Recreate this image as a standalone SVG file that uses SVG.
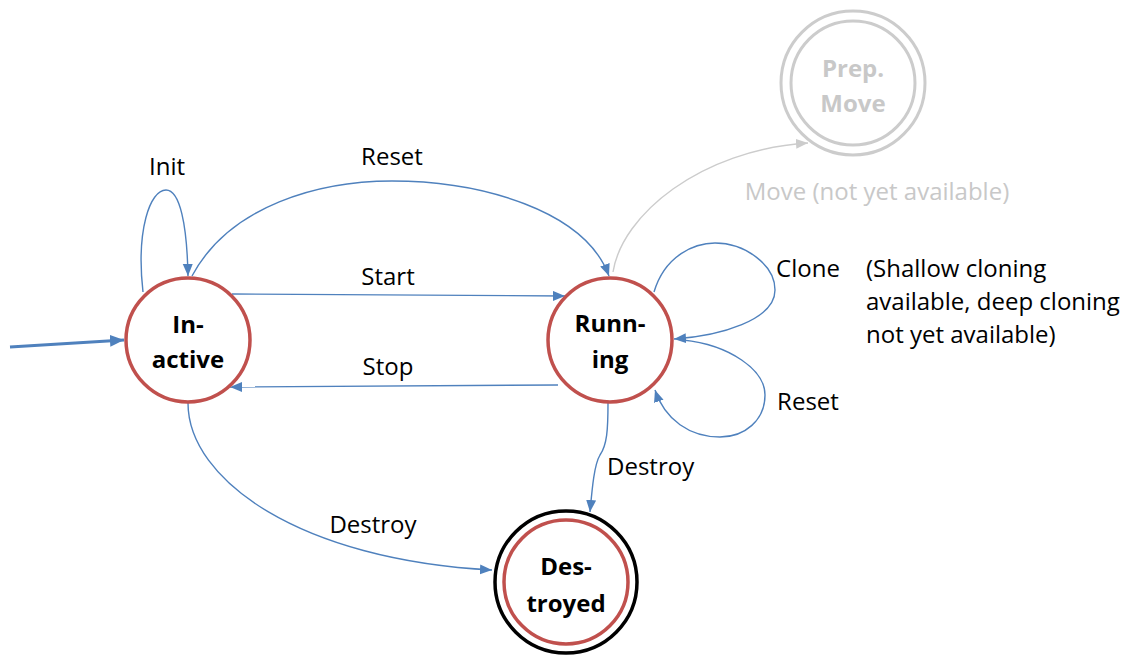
<svg xmlns="http://www.w3.org/2000/svg" width="1128" height="655" viewBox="0 0 1128 655">
<style>
.lbl{font-family:"Open Sans","Noto Sans",sans-serif;font-size:24px;fill:#000}
.glbl{font-family:"Open Sans","Noto Sans",sans-serif;font-size:24px;fill:#c8c8c8}
.nt{font-family:"Open Sans","Noto Sans",sans-serif;font-size:24px;font-weight:bold;fill:#000;text-anchor:middle}
.st{fill:#fff;stroke:#c0504d;stroke-width:3.5}
.edge{fill:none;stroke:#4f81bd;stroke-width:1.4}
.gedge{fill:none;stroke:#cccccc;stroke-width:1.4}
.init{fill:none;stroke:#4f81bd;stroke-width:3.2}
</style>
<defs>
<marker id="ab" markerUnits="userSpaceOnUse" markerWidth="14" markerHeight="12" refX="12" refY="5" orient="auto"><path d="M0,0 L12,5 L0,10 Z" fill="#4f81bd"/></marker>
<marker id="ag" markerUnits="userSpaceOnUse" markerWidth="14" markerHeight="12" refX="12" refY="5" orient="auto"><path d="M0,0 L12,5 L0,10 Z" fill="#cccccc"/></marker>
<marker id="abig" markerUnits="userSpaceOnUse" markerWidth="16" markerHeight="14" refX="14" refY="6" orient="auto"><path d="M0,0 L14,6 L0,12 Z" fill="#4f81bd"/></marker>
</defs>
<rect width="1128" height="655" fill="#fff"/>
<g id="connectors">
<path class="init" d="M10,347 L124,340" marker-end="url(#abig)"/>
<path class="edge" d="M143,292 C136,230 150,190 166,190 C180,190 187,225 188,276" marker-end="url(#ab)"/>
<path class="edge" d="M192,276 C230,205 320,181 392,181 C480,181 585,210 609,276" marker-end="url(#ab)"/>
<path class="gedge" d="M613,272 C622,215 700,150 808,143" marker-end="url(#ag)"/>
<path class="edge" d="M232,294 L565,296" marker-end="url(#ab)"/>
<path class="edge" d="M558,385 L230,387" marker-end="url(#ab)"/>
<path class="edge" d="M654,292 C665,255 695,243 715,243 C745,243 775,265 775,290 C775,320 720,336 674,339" marker-end="url(#ab)"/>
<path class="edge" d="M683,340 C730,345 765,370 765,395 C765,420 745,437 720,437 C690,437 665,420 655,390" marker-end="url(#ab)"/>
<path class="edge" d="M608,403 C608,430 607,445 600,455 C594,465 592,490 590,512" marker-end="url(#ab)"/>
<path class="edge" d="M188,403 C188,480 300,560 492,570" marker-end="url(#ab)"/>
</g>
<g id="labels">
<text class="lbl" x="167" y="175" text-anchor="middle">Init</text>
<text class="lbl" x="392" y="165" text-anchor="middle">Reset</text>
<text class="lbl" x="388" y="285" text-anchor="middle">Start</text>
<text class="lbl" x="388" y="375" text-anchor="middle">Stop</text>
<text class="lbl" x="808" y="277" text-anchor="middle">Clone</text>
<text class="lbl" x="808" y="410" text-anchor="middle">Reset</text>
<text class="lbl" x="607" y="475">Destroy</text>
<text class="lbl" x="373" y="533" text-anchor="middle">Destroy</text>
<text class="glbl" x="877" y="200" text-anchor="middle">Move (not yet available)</text>
<text class="lbl" x="866" y="277">(Shallow cloning</text>
<text class="lbl" x="866" y="310">available, deep cloning</text>
<text class="lbl" x="866" y="343">not yet available)</text>
</g>
<g id="inactive">
<circle class="st" cx="188" cy="340" r="62"/>
<text class="nt" x="188" y="333">In-</text>
<text class="nt" x="188" y="368">active</text>
</g>
<g id="running">
<circle class="st" cx="610" cy="340" r="62"/>
<text class="nt" x="610" y="332">Runn-</text>
<text class="nt" x="610" y="368">ing</text>
</g>
<g id="destroyed">
<circle cx="566" cy="582" r="71" fill="#fff" stroke="#000" stroke-width="3.5"/>
<circle cx="566" cy="582" r="62" fill="none" stroke="#c0504d" stroke-width="3.5"/>
<text class="nt" x="566" y="575">Des-</text>
<text class="nt" x="566" y="612">troyed</text>
</g>
<g id="prepmove">
<circle cx="853" cy="83" r="72" fill="#fff" stroke="#cccccc" stroke-width="3"/>
<circle cx="853" cy="83" r="62" fill="none" stroke="#cccccc" stroke-width="3"/>
<text class="nt" x="853" y="77" style="fill:#c8c8c8">Prep.</text>
<text class="nt" x="853" y="112" style="fill:#c8c8c8">Move</text>
</g>
</svg>
